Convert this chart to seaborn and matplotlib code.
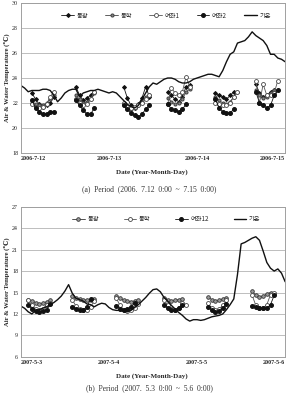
import numpy as np
import pandas as pd
import matplotlib
matplotlib.use('Agg')
import matplotlib.pyplot as plt
import seaborn as sns

sns.set_style('white')
SERIF = 'Liberation Serif'
KR = ['Noto Sans CJK KR', 'DejaVu Sans']

# ---- panel (a) 2006-7-12 ~ 7-15, hourly ----
a_days = ['2006-7-12', '2006-7-13', '2006-7-14', '2006-7-15']
a_air = [23.4, 23.2, 22.9, 23.0, 23.0, 23.0, 23.1, 23.1, 23.0, 22.6, 22.1, 22.4,
         22.8, 23.0, 23.1, 23.1, 22.5, 22.8, 22.9, 23.0, 23.0, 23.1, 23.0, 22.9,
         22.8, 22.9, 22.8, 22.5, 22.2, 21.9, 21.7, 21.6, 21.8, 22.3, 22.8, 23.3,
         23.6, 23.5, 23.7, 23.9, 24.0, 24.0, 23.9, 23.7, 23.6, 23.6, 23.7, 23.9,
         24.0, 24.1, 24.2, 24.3, 24.3, 24.2, 24.1, 24.6, 25.3, 25.9, 26.1, 26.8,
         26.9, 27.0, 27.3, 27.7, 27.4, 27.2, 27.0, 26.6, 25.9, 25.9, 25.6, 25.5, 25.3]
a_starts = [3, 15, 28, 40, 53, 64]
a_dg = [[22.8, 22.3, 21.9, 21.7, 21.8, 22.0, 22.5],
        [23.3, 22.6, 22.2, 22.4, 22.6, 22.9],
        [23.3, 22.4, 21.8, 21.6, 21.9, 22.4, 23.3, 22.5],
        [22.9, 22.6, 22.3, 22.1, 22.5, 23.3, 23.4],
        [22.8, 22.6, 22.5, 22.3, 22.6, 22.9],
        [23.5, 22.8, 22.5, 22.6, 22.9, 23.0]]
a_dh = [[22.0, 21.9, 21.8, 21.8, 22.0, 22.3, 22.6],
        [22.6, 22.3, 22.0, 22.1, 22.3, 22.8],
        [21.8, 21.6, 21.5, 21.6, 21.8, 22.1, 22.5, 22.6],
        [22.4, 22.1, 21.9, 22.0, 22.3, 22.9, 23.1],
        [22.5, 22.2, 22.0, 21.9, 22.1, 22.5, 22.9],
        [23.0, 22.6, 22.4, 22.5, 22.8, 23.0]]
a_yj1 = [[21.9, 21.7, 21.6, 21.7, 21.9, 22.5, 22.9],
         [22.3, 22.0, 21.8, 21.9, 22.3, 22.9],
         [22.0, 21.7, 21.6, 21.7, 21.8, 22.0, 22.3, 22.6],
         [21.9, 23.2, 22.8, 22.6, 22.9, 24.1, 23.3],
         [22.0, 21.9, 21.8, 21.8, 22.0, 22.5, 22.9],
         [23.8, 22.0, 23.5, 22.6, 22.6, 22.8, 23.8]]
a_yj2 = [[22.2, 21.6, 21.3, 21.1, 21.1, 21.3, 21.3],
         [22.2, 21.8, 21.4, 21.1, 21.1, 21.6],
         [21.8, 21.5, 21.2, 21.0, 20.9, 21.1, 21.5, 21.8],
         [21.9, 21.5, 21.4, 21.3, 21.5, 21.9],
         [22.3, 21.6, 21.3, 21.2, 21.2, 21.5],
         [22.9, 22.0, 21.8, 21.6, 21.8, 22.6, 23.0]]

# ---- panel (b) 2007-5-3 ~ 5-6, hourly ----
b_days = ['2007-5-3', '2007-5-4', '2007-5-5', '2007-5-6']
b_air = [13.1, 12.8, 12.3, 12.0, 12.5, 12.6, 12.8, 13.0, 13.3, 13.6, 14.0, 14.5,
         15.2, 16.1, 14.9, 14.2, 14.0, 13.8, 13.4, 13.3, 13.0, 13.3, 13.5, 13.4,
         12.9, 12.6, 12.5, 12.5, 12.4, 12.3, 12.5, 12.9, 13.3, 13.8, 14.3, 14.9,
         15.4, 15.5, 15.1, 14.3, 13.8, 13.2, 12.7, 12.2, 11.8, 11.3, 11.0, 11.2,
         11.2, 11.1, 11.2, 11.4, 11.6, 11.7, 11.8, 12.0, 12.6, 13.3, 14.1, 17.5,
         21.8, 22.0, 22.3, 22.6, 22.8, 22.3, 20.8, 19.2, 18.4, 18.0, 18.3, 17.7, 16.5]
b_starts = [2, 14, 26, 39, 51, 63]
b_dg = [[14.0, 13.8, 13.6, 13.4, 13.5, 13.7, 13.9],
        [14.5, 14.2, 14.1, 14.0, 13.9, 13.9, 14.1],
        [14.5, 14.2, 13.9, 13.8, 13.7, 13.8, 14.0],
        [14.3, 14.0, 13.8, 13.9, 14.0, 14.1],
        [14.4, 14.0, 13.8, 13.9, 14.1, 14.2],
        [15.2, 14.6, 14.4, 14.5, 14.8, 15.0]]
b_dh = [[13.9, 13.2, 12.7, 12.5, 12.7, 13.3, 13.6],
        [14.0, 13.1, 12.7, 12.5, 12.6, 13.0, 13.8],
        [14.2, 13.2, 12.6, 12.4, 12.5, 12.9, 13.4],
        [14.0, 13.2, 12.7, 12.5, 12.8, 13.5, 13.3],
        [13.5, 12.8, 12.6, 12.7, 13.2, 13.9],
        [14.6, 13.2, 12.9, 12.8, 13.3, 14.7, 15.0]]
b_yj12 = [[13.3, 12.7, 12.4, 12.3, 12.4, 12.6, 13.4],
          [13.0, 12.7, 12.6, 12.6, 13.0, 14.1],
          [13.1, 12.7, 12.6, 12.7, 13.0, 13.5],
          [13.3, 12.8, 12.5, 12.5, 12.9, 13.2],
          [13.0, 12.6, 12.3, 12.4, 12.8, 13.4],
          [13.1, 13.0, 12.9, 12.8, 12.8, 13.3, 14.6]]


def seg_frame(starts, clusters):
    rows = []
    for k, (s, vals) in enumerate(zip(starts, clusters)):
        for i, v in enumerate(vals):
            rows.append({'hour': s + i, 'temp': v, 'seg': k})
    return pd.DataFrame(rows)


def draw_panel(ax, air, starts, water, days, ylim, yticks, cols, spacing):
    handles, labels = [], []
    for name, clusters, style in water:
        n0 = len(ax.lines)
        sns.lineplot(data=seg_frame(starts, clusters), x='hour', y='temp',
                     units='seg', estimator=None, ax=ax, lw=0.6, **style)
        handles.append(ax.lines[n0])
        labels.append(name)
    n0 = len(ax.lines)
    air_df = pd.DataFrame({'hour': np.arange(len(air)), 'temp': air})
    sns.lineplot(data=air_df, x='hour', y='temp', ax=ax, color='#111111', lw=1.0)
    handles.append(ax.lines[n0])
    labels.append('기온')

    ax.set_xlim(0, 72)
    ax.set_ylim(*ylim)
    ax.set_yticks(yticks)
    ax.set_xticks([0, 24, 48, 72])
    ax.set_xticklabels(days, family=SERIF, fontsize=4.3, fontweight='bold')
    ax.set_yticklabels([str(t) for t in yticks], family=SERIF, fontsize=4.3)
    ax.tick_params(length=0, pad=2)
    ax.xaxis.get_majorticklabels()[0].set_horizontalalignment('left')
    ax.xaxis.get_majorticklabels()[-1].set_horizontalalignment('right')
    ax.set_xlabel('')
    ax.set_ylabel('Air & Water Temperature (℃)', family=[SERIF, 'DejaVu Serif', 'Noto Sans CJK KR'],
                  fontsize=4.8, fontweight='bold', labelpad=1.5)
    ax.yaxis.grid(True, color='#bdbdbd', lw=0.7)
    for sp in ax.spines.values():
        sp.set_color('#a0a0a0')
        sp.set_linewidth(0.7)
    ax.legend(handles, labels, loc='upper center', ncol=cols,
              bbox_to_anchor=(0.55, 0.985), frameon=True, fancybox=False,
              edgecolor='none', facecolor='white', framealpha=1,
              prop={'family': KR, 'size': 4.5}, handlelength=2.0,
              columnspacing=spacing, handletextpad=0.4, borderpad=0.5)


fig = plt.figure(figsize=(2.98, 3.93), dpi=100)
ax1 = fig.add_axes([0.07, 0.611, 0.887, 0.381])
ax2 = fig.add_axes([0.07, 0.092, 0.887, 0.382])

water_a = [
    ('동광', a_dg, dict(color='#111111', marker='D', ms=2.0, mfc='#111111', mec='#111111')),
    ('동학', a_dh, dict(color='#444444', marker='o', ms=2.2, mfc='#888888', mec='#444444')),
    ('여좌1', a_yj1, dict(color='#555555', marker='o', ms=2.8, mfc='white', mec='#444444', mew=0.6)),
    ('여좌2', a_yj2, dict(color='#111111', marker='o', ms=2.8, mfc='#111111', mec='#111111')),
]
water_b = [
    ('동광', b_dg, dict(color='#333333', marker='o', ms=2.6, mfc='#9a9a9a', mec='#333333', mew=0.6)),
    ('동학', b_dh, dict(color='#555555', marker='o', ms=2.8, mfc='white', mec='#444444', mew=0.6)),
    ('여좌12', b_yj12, dict(color='#111111', marker='o', ms=2.8, mfc='#111111', mec='#111111')),
]

draw_panel(ax1, a_air, a_starts, water_a, a_days, (18, 30), list(range(18, 31, 2)), 5, 2.8)
draw_panel(ax2, b_air, b_starts, water_b, b_days, (6, 27), list(range(6, 28, 3)), 4, 4.0)

fig.text(0.51, 1 - 172 / 393, 'Date (Year-Month-Day)', family=SERIF, fontsize=5,
         fontweight='bold', ha='center', va='center')
fig.text(0.5, 1 - 189 / 393, '(a)  Period  (2006.  7.12  0:00  ~  7.15  0:00)',
         family=SERIF, fontsize=5.5, ha='center', va='center', color='#333333')
fig.text(0.51, 1 - 376 / 393, 'Date (Year-Month-Day)', family=SERIF, fontsize=5,
         fontweight='bold', ha='center', va='center')
fig.text(0.5, 1 - 388 / 393, '(b)  Period  (2007.  5.3  0:00  ~  5.6  0:00)',
         family=SERIF, fontsize=5.5, ha='center', va='center', color='#333333')

fig.savefig('out.png', dpi=100)
